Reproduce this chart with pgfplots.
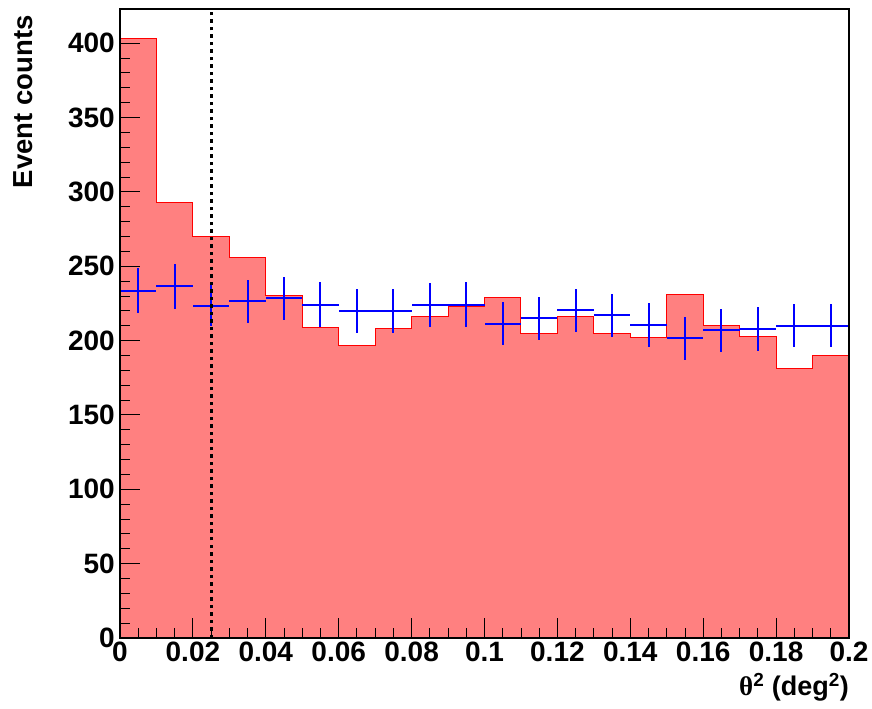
\documentclass[border=0pt]{standalone}
\usepackage{fontspec}
\setmainfont{Liberation Sans}
\newfontfamily\greekfont{Liberation Serif}
\usepackage{pgfplots}
\pgfplotsset{compat=1.18}

\definecolor{histfill}{RGB}{255,128,128}
\definecolor{histline}{RGB}{255,0,0}
\definecolor{offblue}{RGB}{0,0,255}

\begin{document}
\begin{tikzpicture}
\path[use as bounding box] (-120bp,-71bp) rectangle (752bp,638bp);
\begin{axis}[
  scale only axis,
  width=729bp, height=629bp,
  at={(0,0)}, anchor=south west,
  xmin=0, xmax=0.2, ymin=0, ymax=423,
  axis on top,
  axis line style={black, line width=1.2bp},
  tick align=inside,
  xtick pos=bottom, ytick pos=left,
  major tick length=20bp, minor tick length=10bp,
  tick style={black, line width=0.9bp},
  xtick={0,0.02,0.04,0.06,0.08,0.1,0.12,0.14,0.16,0.18,0.2},
  xticklabels={0,0.02,0.04,0.06,0.08,0.1,0.12,0.14,0.16,0.18,0.2},
  minor x tick num=3,
  ytick={0,50,100,150,200,250,300,350,400},
  minor y tick num=4,
  /pgf/number format/assume math mode=true,
  tick label style={font=\fontsize{28bp}{30bp}\selectfont\bfseries},
  yticklabel style={inner xsep=5bp},
  xlabel={{\greekfont θ}\textsuperscript{2} (deg\textsuperscript{2})},
  xlabel style={at={(axis description cs:1,-0.056)}, anchor=north east, inner sep=0pt,
    font=\fontsize{27bp}{30bp}\selectfont\bfseries},
  ylabel={Event counts},
  ylabel style={at={(axis description cs:-0.1468,0.99)}, anchor=north east, inner sep=0pt,
    rotate=0, font=\fontsize{27.5bp}{30bp}\selectfont\bfseries},
]
% ON-region histogram (20 bins of 0.01 deg^2)
\addplot[const plot, fill=histfill, draw=histline, line width=1bp] coordinates {
  (0.00,403) (0.01,293) (0.02,270) (0.03,256) (0.04,230)
  (0.05,209) (0.06,197) (0.07,208) (0.08,216) (0.09,223)
  (0.10,229) (0.11,205) (0.12,216) (0.13,205) (0.14,202)
  (0.15,231) (0.16,210) (0.17,203) (0.18,181) (0.19,190)
  (0.20,190)
} \closedcycle;
\addplot[histline, line width=1bp] coordinates {(0.2,0) (0.2,423)};
% OFF-region (background) estimate with errors
\addplot[draw=none, mark=none,
  error bars/.cd, x dir=both, x explicit, y dir=both, y explicit,
  error mark=none,
  error bar style={draw=offblue, line width=2bp, solid}]
  coordinates {
  (0.005,233.5) +- (0.005,15.2)
  (0.015,236.4) +- (0.005,15.1)
  (0.025,223.5) +- (0.005,14.0)
  (0.035,226.4) +- (0.005,14.6)
  (0.045,228.4) +- (0.005,14.7)
  (0.055,224.1) +- (0.005,15.1)
  (0.065,220.1) +- (0.005,14.8)
  (0.075,219.6) +- (0.005,14.8)
  (0.085,224.1) +- (0.005,14.8)
  (0.095,224.1) +- (0.005,15.1)
  (0.105,211.4) +- (0.005,14.5)
  (0.115,214.9) +- (0.005,14.6)
  (0.125,220.3) +- (0.005,14.6)
  (0.135,216.9) +- (0.005,14.6)
  (0.145,210.7) +- (0.005,14.8)
  (0.155,201.5) +- (0.005,14.4)
  (0.165,206.9) +- (0.005,14.4)
  (0.175,208.0) +- (0.005,14.8)
  (0.185,210.0) +- (0.005,14.5)
  (0.195,210.0) +- (0.005,14.5)
};
% theta^2 cut
\addplot[black, line width=3bp, dash pattern=on 3.5bp off 4bp] coordinates {(0.025,0) (0.025,423)};
\end{axis}
\end{tikzpicture}
\end{document}
